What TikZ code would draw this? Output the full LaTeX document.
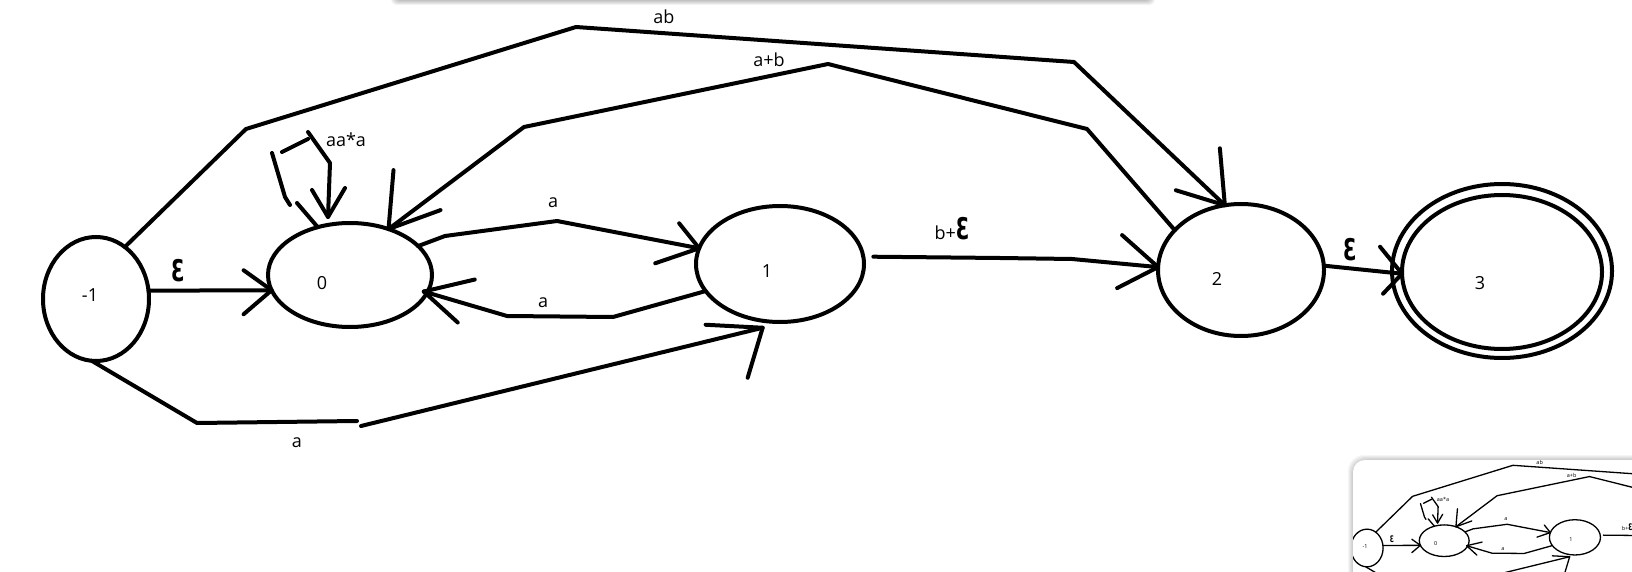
\documentclass[tikz,border=0pt]{standalone}
\usepackage{fontspec}
\setmainfont{Open Sans}
\newfontfamily\epsfont{DejaVu Sans}
\usetikzlibrary{shapes.geometric}
\def\lw{2pt}
\newcommand\epsglyph{\scalebox{0.75}[1.15]{\epsfont\bfseries\fontsize{13}{13}\selectfont Ɛ}}
\tikzset{
  hand/.style={line width=\lw, line cap=round, line join=round},
  st/.style 2 args={ellipse, draw, line width=\lw, inner sep=0pt, outer sep=0pt, minimum width=#1, minimum height=#2},
  lbl/.style={font=\fontsize{9}{10}\selectfont, inner sep=0pt},
  eps/.style={inner sep=0pt},
}
\newcommand\fadiagram{%
  \node[st={53pt}{62pt}] (nm1) at (96,299) {};
  \node[st={82pt}{52pt}] (n0) at (350,275) {};
  \node[st={84pt}{58pt}] (n1) at (780,264) {};
  \node[st={83pt}{66pt}] (n2) at (1241,270) {};
  \node[st={110pt}{87pt}] (n3o) at (1502,271) {};
  \node[st={100pt}{77pt}] (n3) at (1502,272) {};
  \node[lbl] (tm1) at (90,295) {-1};
  \node[lbl] (t0) at (322,283) {0};
  \node[lbl] (t1) at (767,271) {1};
  \node[lbl] (t2) at (1217,279) {2};
  \node[lbl] (t3) at (1480,283) {3};
  \node[lbl] (lab) at (664,17) {ab};
  \node[lbl] (lapb) at (769,60) {a+b};
  \node[lbl] (laa) at (346,140) {aa*a};
  \node[lbl] (la1) at (553,203) {a};
  \node[lbl] (la2) at (543,303) {a};
  \node[lbl] (la3) at (297,443) {a};
  \node[eps] (le1) at (178,271) {\epsglyph};
  \node[lbl] (lbe) at (952,229) {b+\epsglyph};
  \node[eps] (le2) at (1350,250) {\epsglyph};
  % epsilon -1 -> 0
  \draw[hand] (nm1.9) -- (n0.191) coordinate (e1tip);
  \draw[hand] (e1tip) ++(-28,-20) -- (e1tip) -- ++(-28,24);
  % ab -1 -> 2
  \draw[hand] (nm1.61) -- (246,129) -- (576,27) -- (1074,62) -- (n2.104) coordinate (abtip);
  \draw[hand] (abtip) ++(-5,-57) -- (abtip) -- ++(-49,-15);
  % a+b 2 -> 0
  \draw[hand] (n2.149) -- (1087,129) -- (828,64) -- (524,127) -- (n0.50) coordinate (apbtip);
  \draw[hand] (apbtip) ++(5,-59) -- (apbtip) -- ++(52,-19);
  % loop aa*a on 0
  \draw[hand] (n0.124) -- (297,203);
  \draw[hand] (290,205) -- (285,197) -- (272,153);
  \draw[hand] (282,152) -- (308,139);
  \draw[hand] (308,132) -- (330,163) -- (328,217) coordinate (lptip);
  \draw[hand] (lptip) ++(-16,-27) -- (lptip) -- ++(17,-29);
  % a 0 -> 1
  \draw[hand] (n0.23) -- (445,236) -- (557,221) -- (n1.169) coordinate (a1tip);
  \draw[hand] (a1tip) ++(-20,-25) -- (a1tip) -- ++(-44,15);
  % a 1 -> 0
  \draw[hand] (n1.200) -- (613,317) -- (507,316) -- ([xshift=-2pt]n0.-12) coordinate (a2tip);
  \draw[hand] (a2tip) ++(51,-12) -- (a2tip) -- ++(34,31);
  % a -1 -> 1
  \draw[hand] (nm1.-94) -- (197,423) -- (357,421) coordinate (a3mid);
  \draw[hand] (a3mid) ++(4,5) -- ([yshift=-3.5pt]n1.-107) coordinate (a3tip);
  \draw[hand] (a3tip) ++(-57,-3) -- (a3tip) -- ++(-15,50);
  % b+eps 1 -> 2
  \draw[hand] ([xshift=5pt]n1.5) -- (1000,258) -- (1072,259) -- (n2.178) coordinate (btip);
  \draw[hand] (btip) ++(-36,-32) -- (btip) -- ++(-41,21);
  % eps 2 -> 3
  \draw[hand] (n2.3) -- (n3.181) coordinate (e2tip);
  \draw[hand] (e2tip) ++(-22,-27) -- (e2tip) -- ++(-19,20);
}
\begin{document}
\begin{tikzpicture}[x=0.5pt,y=-0.5pt]
\useasboundingbox (0,0) rectangle (1632,572);
\fill[white] (0,0) rectangle (1632,572);
% top bar with shadow
\foreach \i in {1,...,5}
  \fill[black,opacity=0.05,rounded corners=3pt] (396-\i,-20) rectangle (1150+\i,\i);
\fill[white] (396,-20) rectangle (1150,0);
\fadiagram
% thumbnail
\begin{scope}
  \clip (0,0) rectangle (1632,572);
  \foreach \i in {1,...,5}
    \fill[black,opacity=0.04,rounded corners=8pt] (1353-\i,460-\i) rectangle (1700,640);
  \fill[white,rounded corners=6pt] (1353,460) rectangle (1700,640);
  \clip[rounded corners=6pt] (1353,460) rectangle (1700,640);
  \begin{scope}[shift={(1337.8,457.1)}, scale=0.304, transform shape, name prefix=t-]
    \def\lw{0.65pt}
    \fadiagram
  \end{scope}
\end{scope}
\end{tikzpicture}
\end{document}
